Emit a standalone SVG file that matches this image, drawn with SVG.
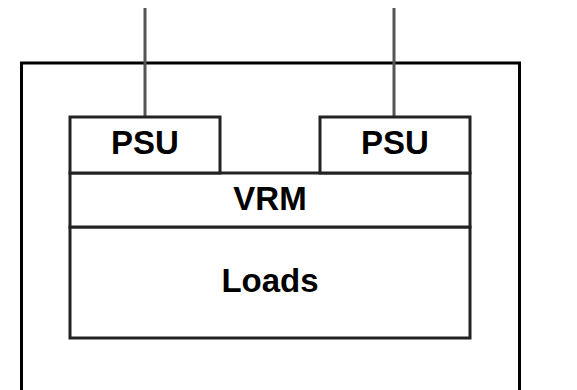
<svg xmlns="http://www.w3.org/2000/svg" width="577" height="390" viewBox="0 0 577 390">
<style>
.box{fill:#fff;stroke:#222;stroke-width:3}
.lbl{font-family:"Liberation Sans",Arial,sans-serif;font-weight:bold;font-size:33px;fill:#000;text-anchor:middle}
.wire{stroke:#555;stroke-width:3;fill:none}
</style>
<rect width="577" height="390" fill="#fff"/>
<rect id="enclosure" x="21.5" y="63" width="498" height="340" fill="none" stroke="#000" stroke-width="3"/>
<g id="connectors">
<line class="wire" x1="145" y1="8" x2="145" y2="117"/>
<line class="wire" x1="394" y1="8" x2="394" y2="117"/>
</g>
<g id="loads"><rect class="box" x="70" y="227" width="400" height="111"/><text class="lbl" x="270" y="292">Loads</text></g>
<g id="vrm"><rect class="box" x="70" y="173" width="400" height="54"/><text class="lbl" x="270" y="210">VRM</text></g>
<g id="psu1"><rect class="box" x="70" y="117" width="150" height="56"/><text class="lbl" x="145" y="154">PSU</text></g>
<g id="psu2"><rect class="box" x="320" y="117" width="150" height="56"/><text class="lbl" x="395" y="154">PSU</text></g>
</svg>
